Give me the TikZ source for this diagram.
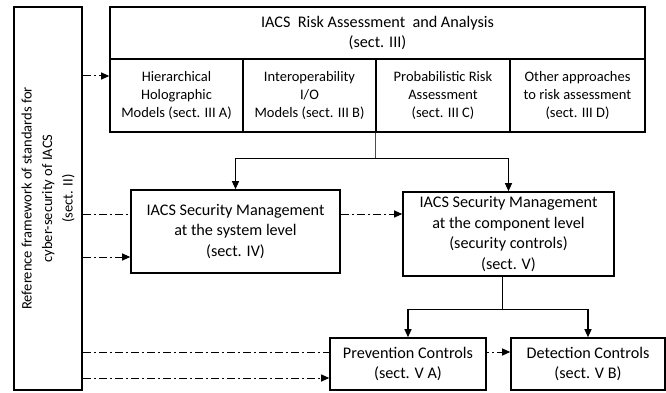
\documentclass[tikz,border=0pt]{standalone}
\usepackage{fontspec}
\setmainfont{Carlito}
\usetikzlibrary{arrows.meta,calc}
\begin{document}
\begin{tikzpicture}[x=1pt,y=-1pt,
  box/.style={draw,line width=1.6pt,inner sep=0pt,align=center},
  big/.style={font=\fontsize{16.2}{20.5}\selectfont},
  small/.style={font=\fontsize{14.5}{18.3}\selectfont},
  side/.style={font=\fontsize{14.5}{20.5}\selectfont},
  arr/.style={-{Triangle[length=8pt,width=7pt]}},
  conn/.style={line width=1.2pt,arr},
  plain/.style={line width=1.2pt},
  dd/.style={line width=1pt,dash pattern=on 8pt off 3pt on 2pt off 3pt},
  ]
\useasboundingbox (0,0) rectangle (666,393);
% boxes
\node[box,side,minimum width=68,minimum height=383] (lb) at (48,198.5)
  {\rotatebox{90}{\begin{tabular}{@{}c@{}}Reference framework of standards for\\cyber-security of IACS\\(sect. II)\end{tabular}}};
\node[box,big,minimum width=535,minimum height=52] (top) at (377.5,33)
  {IACS\ \ Risk Assessment\ \ and Analysis\\(sect. III)};
\node[box,small,minimum width=133,minimum height=73] (c1) at (176.5,95.5)
  {Hierarchical\\Holographic\\Models (sect. III A)};
\node[box,small,minimum width=133,minimum height=73] (c2) at (309.5,95.5)
  {Interoperability\\I/O\\Models (sect. III B)};
\node[box,small,minimum width=134,minimum height=73] (c3) at (443,95.5)
  {Probabilistic Risk\\Assessment\\(sect. III C)};
\node[box,small,minimum width=135,minimum height=73] (c4) at (577.5,95.5)
  {Other approaches\\to risk assessment\\(sect. III D)};
\node[box,big,minimum width=209,minimum height=83] (mid1) at (235.5,231.5)
  {IACS Security Management\\at the system level\\(sect. IV)};
\node[box,big,minimum width=211,minimum height=84] (mid2) at (508.5,234)
  {IACS Security Management\\at the component level\\(security controls)\\(sect. V)};
\node[box,big,minimum width=156,minimum height=52] (prev) at (408,364)
  {Prevention Controls\\(sect. V A)};
\node[box,big,minimum width=154,minimum height=52] (det) at (588,364)
  {Detection Controls\\(sect. V B)};
% solid connectors
\draw[line width=1pt,gray!60!black] (c3.south west) -- ++(0,26) coordinate (j1);
\draw[conn] (j1) -| (mid1.north);
\draw[conn] (j1) -| (mid2.north);
\path (mid2.south) ++(-6,33) coordinate (j2);
\draw[plain] (mid2.south -| j2) -- (j2);
\draw[conn] (j2) -| (prev.north);
\draw[conn] (j2) -| (det.north);
% dash-dot connectors
\path (c1.west) ++(0,-19.5) coordinate (a1);
\draw[dd,arr] (lb.east |- a1) -- (a1);
\path (mid1.west) ++(0,-17.5) coordinate (m1a);
\path (mid1.west) ++(0,25.5) coordinate (m1b);
\draw[dd] (lb.east |- m1a) -- (m1a);
\draw[dd,arr] (lb.east |- m1b) -- (m1b);
\draw[dd,arr] (mid1.east |- m1a) -- (mid2.west |- m1a);
\path (prev.west) ++(0,-12) coordinate (p1a);
\path (prev.west) ++(0,14) coordinate (p1b);
\draw[dd] (lb.east |- p1a) -- (p1a);
\draw[dd,arr] (lb.east |- p1b) -- (p1b);
\draw[dd,arr,dash phase=6pt] (prev.east |- p1a) -- (det.west |- p1a);
\end{tikzpicture}
\end{document}
